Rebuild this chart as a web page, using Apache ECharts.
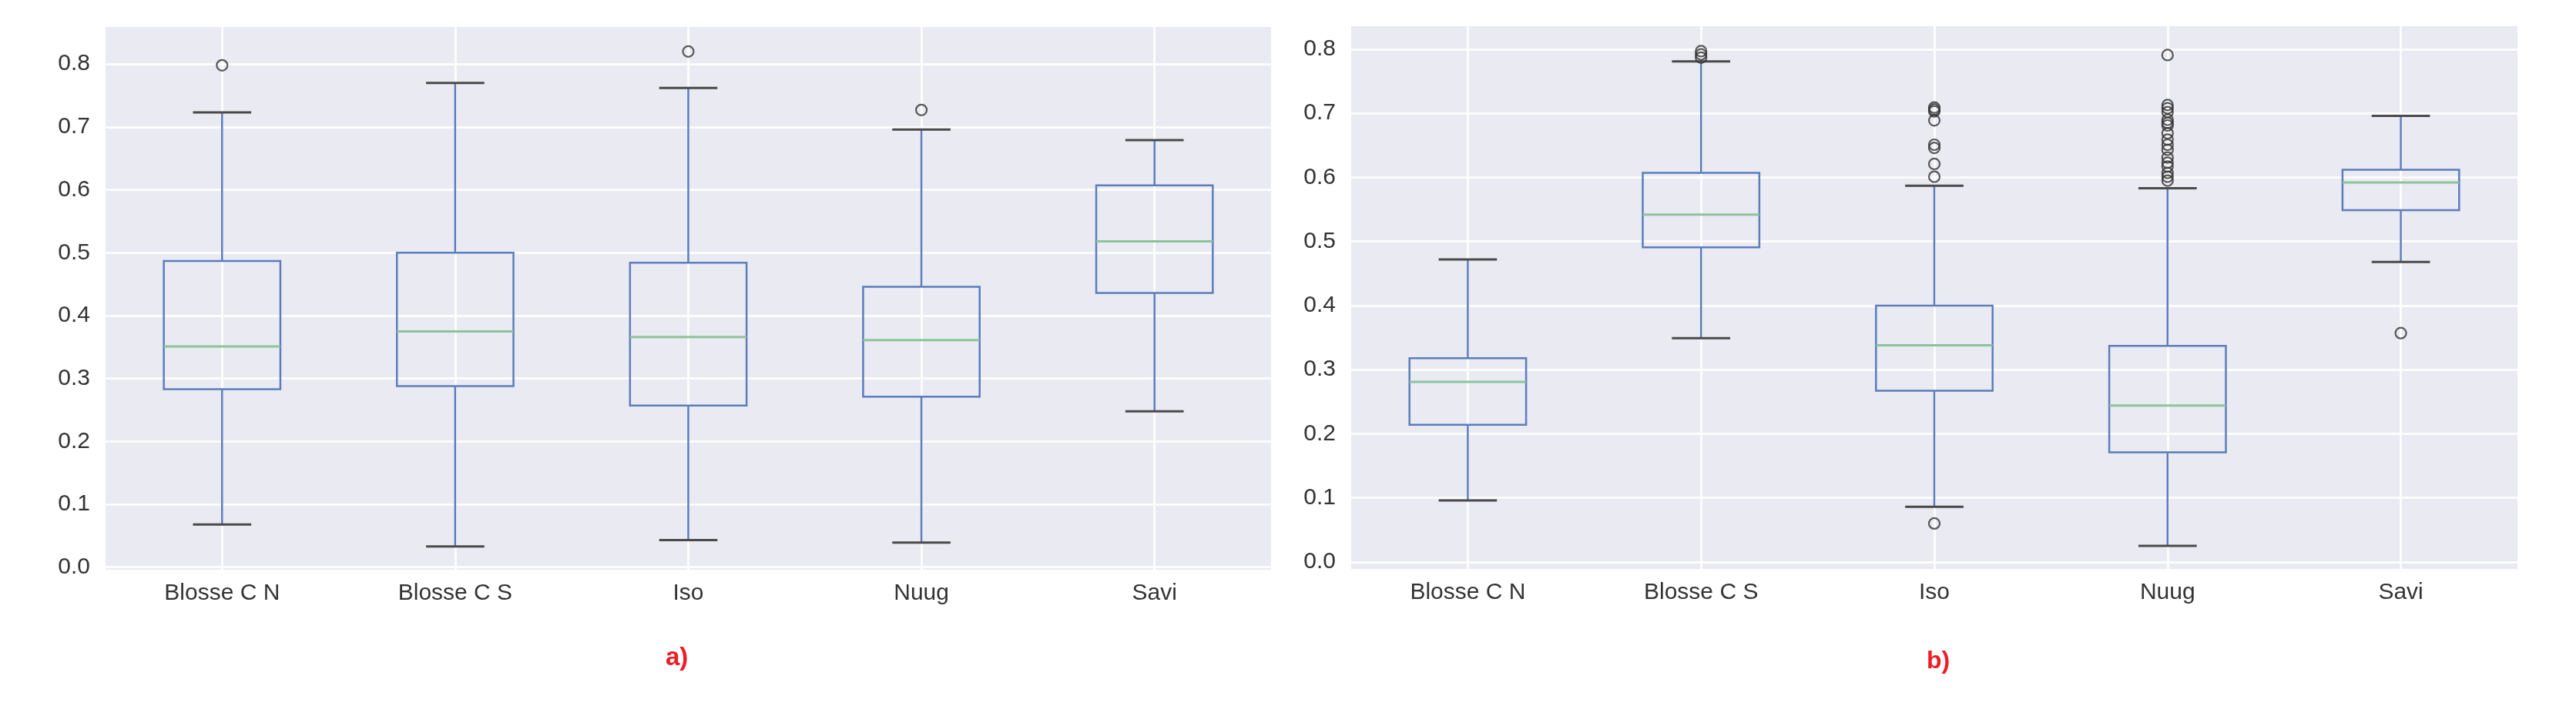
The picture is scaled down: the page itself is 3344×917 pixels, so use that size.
<!DOCTYPE html>
<html>
<head>
<meta charset="utf-8">
<script src="https://cdn.jsdelivr.net/npm/echarts@6/dist/echarts.min.js"></script>
<style>
html,body{margin:0;padding:0;background:#ffffff;}
#chart{width:3344px;height:917px;}
</style>
</head>
<body>
<div id="chart"></div>
<script>
// ---------- data ----------
const categories = ['Blosse C N', 'Blosse C S', 'Iso', 'Nuug', 'Savi'];
const yTicks = [0.0, 0.1, 0.2, 0.3, 0.4, 0.5, 0.6, 0.7, 0.8];
const yTickLabels = ['0.0', '0.1', '0.2', '0.3', '0.4', '0.5', '0.6', '0.7', '0.8'];

// panel a)
const aLow  = [0.068, 0.033, 0.043, 0.039, 0.248];
const aQ1   = [0.283, 0.288, 0.257, 0.271, 0.436];
const aMed  = [0.351, 0.375, 0.366, 0.361, 0.518];
const aQ3   = [0.487, 0.500, 0.484, 0.446, 0.607];
const aHigh = [0.723, 0.770, 0.762, 0.696, 0.679];
const aOutliers = [[0.798], [], [0.820], [0.727], []];

// panel b)
const bLow  = [0.096, 0.349, 0.086, 0.025, 0.468];
const bQ1   = [0.214, 0.491, 0.267, 0.171, 0.549];
const bMed  = [0.281, 0.542, 0.338, 0.244, 0.592];
const bQ3   = [0.318, 0.607, 0.400, 0.337, 0.612];
const bHigh = [0.472, 0.781, 0.587, 0.583, 0.696];
const bOutliers = [
  [],
  [0.797, 0.792, 0.787],
  [0.709, 0.706, 0.703, 0.689, 0.651, 0.646, 0.621, 0.601, 0.060],
  [0.791, 0.713, 0.708, 0.702, 0.690, 0.685, 0.681, 0.669, 0.659, 0.651, 0.643, 0.631, 0.623, 0.617, 0.607, 0.601, 0.595],
  [0.357]
];

// ---------- styles ----------
const BLUE = '#5b7dbd';
const GREEN = '#8cc49a';
const CAP = '#4a4a4a';
const BG = '#eaeaf2';
const TXT = '#333333';
const FONT = 'Liberation Sans, Arial, sans-serif';

function boxData(low, q1, med, q3, high) {
  return categories.map((c, i) => [i, low[i], q1[i], med[i], q3[i], high[i]]);
}
function outlierData(out) {
  const r = [];
  out.forEach((arr, i) => arr.forEach(v => r.push([i, v])));
  return r;
}

function renderBox(params, api) {
  const x = api.value(0);
  const band = api.size([1, 0])[0];
  const bw = band * 0.5, cw = band * 0.25;
  const pLow = api.coord([x, api.value(1)]);
  const pQ1 = api.coord([x, api.value(2)]);
  const pMed = api.coord([x, api.value(3)]);
  const pQ3 = api.coord([x, api.value(4)]);
  const pHigh = api.coord([x, api.value(5)]);
  const cx = pLow[0];
  const lw = 2.5;
  return {
    type: 'group',
    children: [
      { type: 'rect', shape: { x: cx - bw / 2, y: pQ3[1], width: bw, height: pQ1[1] - pQ3[1] },
        style: { fill: 'none', stroke: BLUE, lineWidth: lw } },
      { type: 'line', shape: { x1: cx - bw / 2, y1: pMed[1], x2: cx + bw / 2, y2: pMed[1] },
        style: { stroke: GREEN, lineWidth: 3 } },
      { type: 'line', shape: { x1: cx, y1: pQ3[1], x2: cx, y2: pHigh[1] },
        style: { stroke: BLUE, lineWidth: lw } },
      { type: 'line', shape: { x1: cx, y1: pQ1[1], x2: cx, y2: pLow[1] },
        style: { stroke: BLUE, lineWidth: lw } },
      { type: 'line', shape: { x1: cx - cw / 2, y1: pHigh[1], x2: cx + cw / 2, y2: pHigh[1] },
        style: { stroke: CAP, lineWidth: 3 } },
      { type: 'line', shape: { x1: cx - cw / 2, y1: pLow[1], x2: cx + cw / 2, y2: pLow[1] },
        style: { stroke: CAP, lineWidth: 3 } }
    ]
  };
}

function xAxis(gi) {
  return {
    gridIndex: gi, type: 'category', data: categories, boundaryGap: true,
    axisLine: { show: false },
    axisTick: { show: false, alignWithLabel: true },
    axisLabel: { fontSize: 30, color: TXT, fontFamily: FONT, margin: 16, interval: 0 },
    splitLine: { show: true, alignWithLabel: true, lineStyle: { color: '#ffffff', width: 2.5 } }
  };
}
function yAxis(gi, mn, mx) {
  return {
    gridIndex: gi, type: 'value', min: mn, max: mx,
    axisLine: { show: false },
    axisTick: { show: false, customValues: yTicks },
    axisLabel: {
      customValues: yTicks, fontSize: 30, color: TXT, fontFamily: FONT, margin: 20,
      formatter: v => yTickLabels[yTicks.findIndex(t => Math.abs(t - v) < 1e-9)] ?? v.toFixed(1)
    },
    splitLine: { show: true, lineStyle: { color: '#ffffff', width: 2.5 } }
  };
}

const outlierStyle = { color: 'rgba(0,0,0,0)', borderColor: '#333333', borderWidth: 2.2 };

const chart = echarts.init(document.getElementById('chart'));
chart.setOption({
  animation: false,
  backgroundColor: '#ffffff',
  grid: [
    { left: 137, top: 35, width: 1513, height: 705, show: true, backgroundColor: BG, borderWidth: 0 },
    { left: 1754, top: 34, width: 1514, height: 705, show: true, backgroundColor: BG, borderWidth: 0 }
  ],
  xAxis: [xAxis(0), xAxis(1)],
  yAxis: [yAxis(0, -0.004, 0.859), yAxis(1, -0.011, 0.836)],
  series: [
    { type: 'custom', xAxisIndex: 0, yAxisIndex: 0, renderItem: renderBox,
      encode: { x: 0, y: [1, 2, 3, 4, 5] }, data: boxData(aLow, aQ1, aMed, aQ3, aHigh), z: 2 },
    { type: 'scatter', xAxisIndex: 0, yAxisIndex: 0, symbol: 'circle', symbolSize: 14,
      itemStyle: outlierStyle, data: outlierData(aOutliers), z: 3 },
    { type: 'custom', xAxisIndex: 1, yAxisIndex: 1, renderItem: renderBox,
      encode: { x: 0, y: [1, 2, 3, 4, 5] }, data: boxData(bLow, bQ1, bMed, bQ3, bHigh), z: 2 },
    { type: 'scatter', xAxisIndex: 1, yAxisIndex: 1, symbol: 'circle', symbolSize: 14,
      itemStyle: outlierStyle, data: outlierData(bOutliers), z: 3 }
  ],
  graphic: [
    { type: 'text', left: 864, top: 838,
      style: { text: 'a)', fill: '#ee1c25', font: 'bold 33px ' + FONT } },
    { type: 'text', left: 2501, top: 843,
      style: { text: 'b)', fill: '#ee1c25', font: 'bold 32px ' + FONT } }
  ]
});
</script>
</body>
</html>
